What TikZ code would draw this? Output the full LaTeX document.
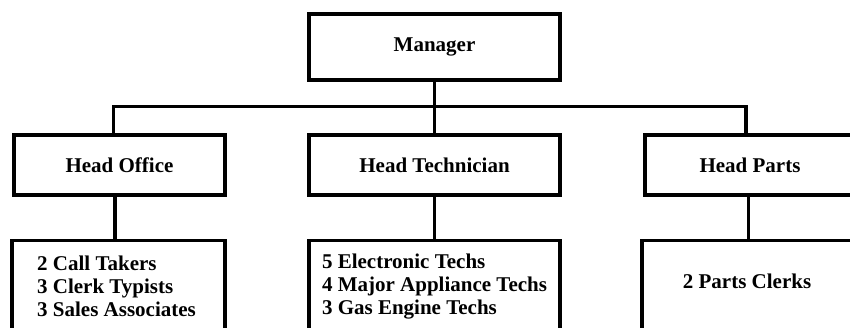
\documentclass[tikz,border=0pt]{standalone}
\usepackage{fontspec}
\setmainfont{Liberation Serif}
\usetikzlibrary{positioning}
\begin{document}
\begin{tikzpicture}[x=1pt,y=1pt,
  box/.style={draw,line width=3.5pt,inner sep=0pt,font=\fontsize{21}{23}\selectfont\bfseries},
  list/.style={align=left,inner sep=0pt,font=\fontsize{21}{23}\selectfont\bfseries},
  link/.style={line width=3.2pt}]
\useasboundingbox (0,0) rectangle (850,328);
\clip (0,0) rectangle (850,328);

\node[box,minimum width=251pt,minimum height=66pt] (manager) at (434.5,281) {Manager};

\node[box,minimum width=211pt,minimum height=60pt] (office) at (119.5,163) {Head Office};
\node[box,minimum width=251pt,minimum height=60pt] (tech) at (434.5,163) {Head Technician};
\node[box,minimum width=210pt,minimum height=60pt] (parts) at (750,163) {Head Parts};

\node[box,minimum width=213pt,minimum height=130pt,anchor=north] (officestaff) at (118.5,89) {};
\node[box,minimum width=251pt,minimum height=130pt,anchor=north] (techstaff) at (434.5,89) {};
\node[box,minimum width=213pt,minimum height=130pt,anchor=north] (partsstaff) at (748.5,89) {};

\node[list] (officelist) at ([xshift=-2pt,yshift=-47.5pt]officestaff.north) {2 Call Takers\\3 Clerk Typists\\3 Sales Associates};
\node[list] (techlist) at ([yshift=-47.5pt]techstaff.north) {5 Electronic Techs\\4 Major Appliance Techs\\3 Gas Engine Techs};
\node[list] (partslist) at ([xshift=-1.5pt,yshift=-42pt]partsstaff.north) {2 Parts Clerks};

\draw[link] (manager) -- (tech);
\draw[link] ([xshift=-6pt]office.north) -- ++(0,27) -| ([xshift=-4pt]parts.north);
\draw[link] ([xshift=-3.5pt]officestaff.north) -- ([xshift=-3.5pt]officestaff.north |- office.south);
\draw[link] (tech) -- (techstaff);
\draw[link] (partsstaff.north) -- (partsstaff.north |- parts.south);
\end{tikzpicture}
\end{document}
